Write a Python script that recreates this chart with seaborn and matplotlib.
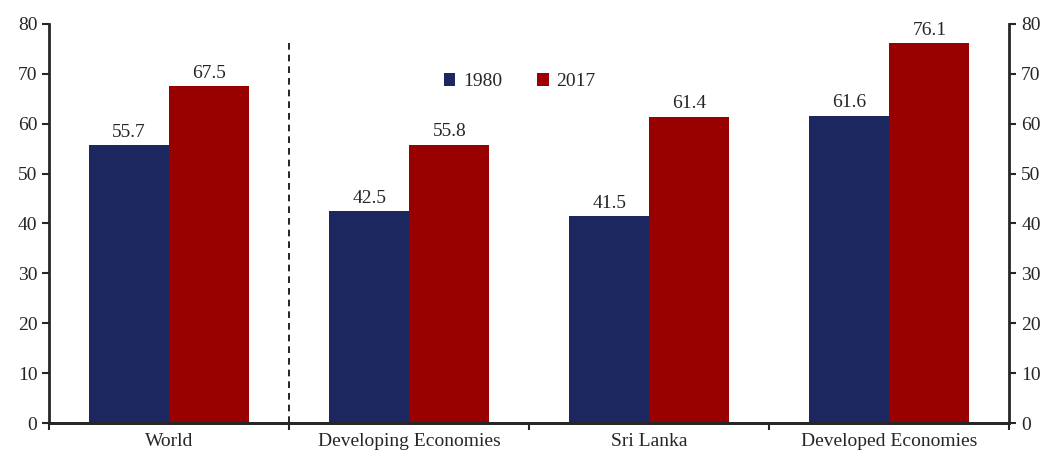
import pandas as pd
import matplotlib.pyplot as plt
import seaborn as sns

categories = ['World', 'Developing Economies', 'Sri Lanka', 'Developed Economies']
years = ['1980', '2017']
values_1980 = [55.7, 42.5, 41.5, 61.6]
values_2017 = [67.5, 55.8, 61.4, 76.1]

df = pd.DataFrame({
    'Region': categories * 2,
    'Year': [years[0]] * 4 + [years[1]] * 4,
    'Value': values_1980 + values_2017,
})

sns.set_style("ticks")
plt.rcParams['font.family'] = ['Liberation Serif', 'DejaVu Serif']
pal = {'1980': '#1b275e', '2017': '#990000'}

fig = plt.figure(figsize=(10.46, 4.5), dpi=100)
ax = fig.add_axes([0.047, 0.06, 0.918, 0.887])
sns.barplot(data=df, x='Region', y='Value', hue='Year', order=categories,
            hue_order=years, palette=pal, width=0.667, saturation=1,
            linewidth=0, ax=ax)

for cont in ax.containers:
    ax.bar_label(cont, fmt='%.1f', padding=3, fontsize=14)

ax.set_ylim(0, 80)
ax.set_xlim(-0.5, 3.5)
ax.set_yticks(range(0, 81, 10))
ax.set_xlabel('')
ax.set_ylabel('')
ax.tick_params(axis='y', labelsize=14, direction='out', length=5, width=1.5)
ax.tick_params(axis='x', labelsize=14, length=0, pad=7)
ax.set_xticks([-0.5, 0.5, 1.5, 2.5, 3.5], minor=True)
ax.tick_params(axis='x', which='minor', length=5, width=1.5, direction='out')

ax2 = ax.twinx()
ax2.set_ylim(0, 80)
ax2.set_yticks(range(0, 81, 10))
ax2.tick_params(axis='y', labelsize=14, direction='out', length=5, width=1.5)

for a in (ax, ax2):
    a.spines['top'].set_visible(False)
    a.spines['left'].set_linewidth(2)
    a.spines['right'].set_linewidth(2)
    a.spines['bottom'].set_linewidth(2)
ax.spines['right'].set_visible(False)
ax2.spines['left'].set_visible(False)

ax.plot([0.5, 0.5], [0, 77], ls=(0, (4, 3)), color='black', lw=1.2)

ax.legend(title=None, loc='upper center', bbox_to_anchor=(0.49, 0.92),
          ncol=2, frameon=False, fontsize=14, handlelength=0.6,
          handleheight=0.6, columnspacing=1.8, handletextpad=0.4)

plt.savefig("out.png", dpi=100)
